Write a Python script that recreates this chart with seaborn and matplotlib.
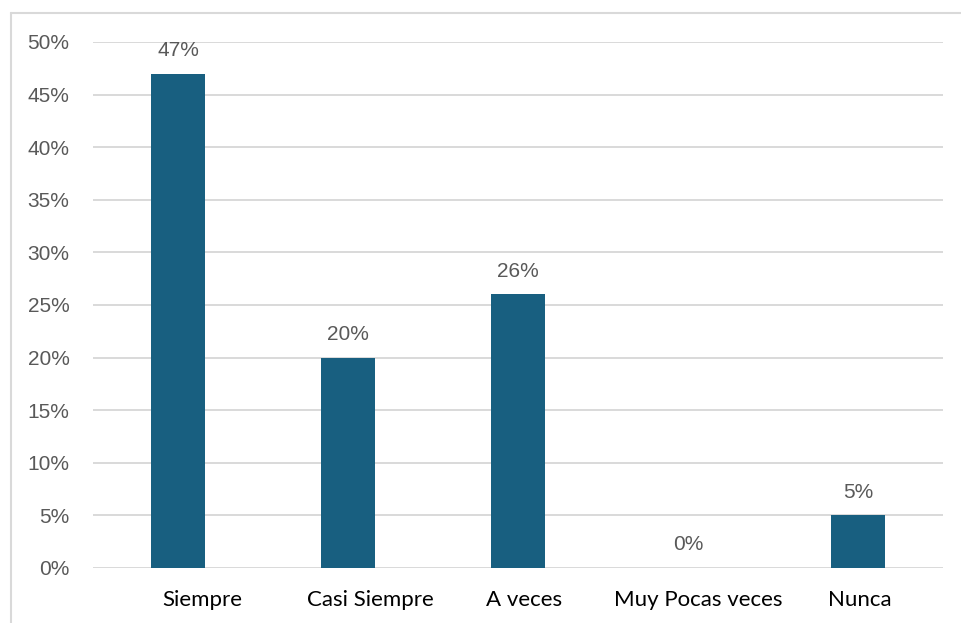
import matplotlib
matplotlib.use("Agg")
import matplotlib.pyplot as plt
from matplotlib.lines import Line2D
from matplotlib.ticker import PercentFormatter
from matplotlib.transforms import ScaledTranslation
import pandas as pd
import seaborn as sns

categories = ["Siempre", "Casi Siempre", "A veces", "Muy Pocas veces", "Nunca"]
values = [47, 20, 26, 0, 5]
y_ticks = [0, 5, 10, 15, 20, 25, 30, 35, 40, 45, 50]

# the reference renders the category labels slightly right of the bars (px)
label_shift_px = [24, 22, 6, 10, 2]

df = pd.DataFrame({"categoria": categories, "valor": values})

sns.set_theme(style="white")
plt.rcParams["font.family"] = ["Liberation Sans", "DejaVu Sans"]

fig = plt.figure(figsize=(9.61, 6.23), dpi=100)
ax = fig.add_axes([0.0968, 0.0883, 0.8845, 0.8443])

sns.barplot(data=df, x="categoria", y="valor", ax=ax, color="#185F80",
            width=0.32, saturation=1, linewidth=0, zorder=3)

ax.set_ylim(0, 50)
ax.set_xlim(-0.5, len(categories) - 0.5)
ax.set_yticks(y_ticks)
ax.yaxis.set_major_formatter(PercentFormatter(decimals=0))
ax.grid(axis="y", color="#D9D9D9", linewidth=1.4, zorder=0)
ax.set_axisbelow(True)
for s in ax.spines.values():
    s.set_visible(False)
ax.set_xlabel("")
ax.set_ylabel("")

ax.tick_params(axis="y", length=0, pad=17, labelsize=15, labelcolor="#595959")
ax.tick_params(axis="x", length=0, pad=16, labelsize=16, labelcolor="#000000")
for lbl, dx in zip(ax.get_xticklabels(), label_shift_px):
    lbl.set_fontfamily(["Lato", "DejaVu Sans"])
    lbl.set_transform(lbl.get_transform() + ScaledTranslation(dx / 100, 0, fig.dpi_scale_trans))

ax.bar_label(ax.containers[0], labels=[f"{v}%" for v in values], padding=10,
             fontsize=15, color="#595959")

# light frame around the chart (top and left edges)
fig.add_artist(Line2D([11 / 961, 1.0], [1 - 13 / 623, 1 - 13 / 623],
                      transform=fig.transFigure, color="#D9D9D9", linewidth=1.5))
fig.add_artist(Line2D([11 / 961, 11 / 961], [0.0, 1 - 13 / 623],
                      transform=fig.transFigure, color="#D9D9D9", linewidth=1.5))

fig.savefig("out.png", dpi=100)
plt.close(fig)
